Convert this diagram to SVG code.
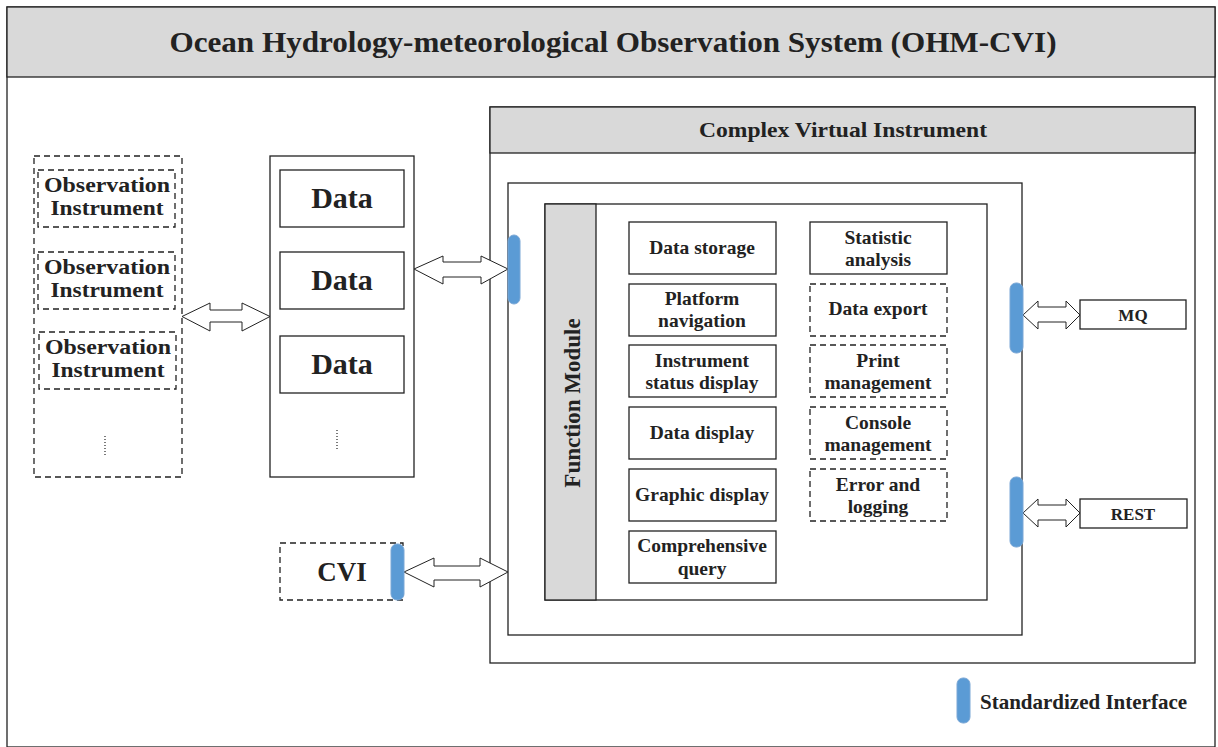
<svg xmlns="http://www.w3.org/2000/svg" width="1218" height="747" viewBox="0 0 1218 747">
<defs>
<style>
text{font-family:"Liberation Serif","DejaVu Serif",serif;font-weight:bold;fill:#222;text-anchor:middle}
.box{fill:#fff;stroke:#222;stroke-width:1.3}
.dash{fill:#fff;stroke:#222;stroke-width:1.3;stroke-dasharray:6 4}
.gray{fill:#d9d9d9;stroke:#222;stroke-width:1.3}
.arr{fill:#fff;stroke:#222;stroke-width:1}
.bar{fill:#5b9bd5;stroke:#7aa7d6;stroke-width:1}
.dots{stroke:#222;stroke-width:1.2;stroke-dasharray:1 2}
.it{font-size:19.5px}
.ob{font-size:20px}
.dt{font-size:30px}
</style>
</defs>
<rect width="1218" height="747" fill="#fff"/>
<g id="frame">
<rect class="box" x="7" y="7" width="1208" height="740"/>
<rect class="gray" x="7" y="7" width="1208" height="70"/>
<text x="613" y="52" font-size="30" textLength="887" lengthAdjust="spacingAndGlyphs">Ocean Hydrology-meteorological Observation System (OHM-CVI)</text>
</g>
<g id="obs-column">
<rect class="dash" x="34" y="156" width="148" height="321"/>
<line class="dots" x1="105" y1="436" x2="105" y2="456"/>
</g>
<g id="obs1"><rect class="dash" x="38" y="170" width="137" height="57"/><text class="ob" x="107" y="192" textLength="126" lengthAdjust="spacingAndGlyphs">Observation</text><text class="ob" x="107" y="215" textLength="113" lengthAdjust="spacingAndGlyphs">Instrument</text></g>
<g id="obs2"><rect class="dash" x="38" y="252" width="137" height="57"/><text class="ob" x="107" y="274" textLength="126" lengthAdjust="spacingAndGlyphs">Observation</text><text class="ob" x="107" y="297" textLength="113" lengthAdjust="spacingAndGlyphs">Instrument</text></g>
<g id="obs3"><rect class="dash" x="39" y="332" width="137" height="57"/><text class="ob" x="108" y="354" textLength="126" lengthAdjust="spacingAndGlyphs">Observation</text><text class="ob" x="108" y="377" textLength="113" lengthAdjust="spacingAndGlyphs">Instrument</text></g>
<g id="data-column">
<rect class="box" x="270" y="156" width="144" height="321"/>
<line class="dots" x1="337" y1="430" x2="337" y2="450"/>
</g>
<g id="data1"><rect class="box" x="280" y="170" width="124" height="57"/><text class="dt" x="342" y="208">Data</text></g>
<g id="data2"><rect class="box" x="280" y="252" width="124" height="57"/><text class="dt" x="342" y="290">Data</text></g>
<g id="data3"><rect class="box" x="280" y="336" width="124" height="57"/><text class="dt" x="342" y="374">Data</text></g>
<g id="cvi-outer">
<rect class="box" x="490" y="107" width="705" height="556"/>
<rect class="gray" x="490" y="107" width="705" height="46"/>
<text x="843" y="137" font-size="21" textLength="288" lengthAdjust="spacingAndGlyphs">Complex Virtual Instrument</text>
</g>
<g id="cvi-inner"><rect class="box" x="508" y="183" width="514" height="452"/></g>
<g id="function-module">
<rect class="box" x="545" y="204" width="442" height="396"/>
<rect class="gray" x="545" y="204" width="51" height="396"/>
<text transform="translate(580 403) rotate(-90)" font-size="23">Function Module</text>
</g>
<g id="f-storage"><rect class="box" x="629" y="222" width="147" height="52"/><text class="it" x="702" y="254">Data storage</text></g>
<g id="f-platform"><rect class="box" x="629" y="284" width="147" height="52"/><text class="it" x="702" y="305">Platform</text><text class="it" x="702" y="327">navigation</text></g>
<g id="f-status"><rect class="box" x="629" y="345" width="147" height="52"/><text class="it" x="702" y="367">Instrument</text><text class="it" x="702" y="389">status display</text></g>
<g id="f-datadisplay"><rect class="box" x="629" y="407" width="147" height="52"/><text class="it" x="702" y="439">Data display</text></g>
<g id="f-graphic"><rect class="box" x="629" y="469" width="147" height="52"/><text class="it" x="702" y="501">Graphic display</text></g>
<g id="f-query"><rect class="box" x="629" y="531" width="147" height="52"/><text class="it" x="702" y="552">Comprehensive</text><text class="it" x="702" y="575">query</text></g>
<g id="f-statistic"><rect class="box" x="810" y="222" width="137" height="52"/><text class="it" x="878" y="244">Statistic</text><text class="it" x="878" y="266">analysis</text></g>
<g id="f-export"><rect class="dash" x="810" y="284" width="137" height="52"/><text class="it" x="878" y="315">Data export</text></g>
<g id="f-print"><rect class="dash" x="810" y="345" width="137" height="52"/><text class="it" x="878" y="367">Print</text><text class="it" x="878" y="389">management</text></g>
<g id="f-console"><rect class="dash" x="810" y="407" width="137" height="52"/><text class="it" x="878" y="429">Console</text><text class="it" x="878" y="451">management</text></g>
<g id="f-error"><rect class="dash" x="810" y="469" width="137" height="52"/><text class="it" x="878" y="491">Error and</text><text class="it" x="878" y="513">logging</text></g>
<g id="cvi-box"><rect class="dash" x="280" y="543" width="123" height="57"/><text x="342" y="581" font-size="27">CVI</text></g>
<g id="mq"><rect class="box" x="1080" y="300" width="106" height="29"/><text x="1133" y="321" font-size="17">MQ</text></g>
<g id="rest"><rect class="box" x="1080" y="499" width="107" height="29"/><text x="1133" y="520" font-size="17">REST</text></g>
<g id="connectors">
<polygon class="arr" points="182,316.5 210,303 210,310 242,310 242,303 270,316.5 242,331 242,322 210,322 210,331"/>
<polygon class="arr" points="414,269 443,256 443,262 481,262 481,256 508,269 481,284 481,277 443,277 443,284"/>
<polygon class="arr" points="404,572 434,558 434,566 480,566 480,558 508,572 480,587 480,580 434,580 434,587"/>
<polygon class="arr" points="1023,315 1038,301 1038,307 1066,307 1066,301 1080,315 1066,329 1066,322 1038,322 1038,329"/>
<polygon class="arr" points="1023,513 1038,499 1038,505 1066,505 1066,499 1080,513 1066,527 1066,520 1038,520 1038,527"/>
</g>
<g id="interfaces">
<rect class="bar" x="508" y="235" width="12" height="69" rx="6"/>
<rect class="bar" x="1010" y="283" width="13" height="70" rx="6"/>
<rect class="bar" x="1010" y="477" width="13" height="70" rx="6"/>
<rect class="bar" x="391" y="544" width="13" height="56" rx="6"/>
</g>
<g id="legend">
<rect class="bar" x="957" y="678" width="13" height="45" rx="6"/>
<text x="980" y="709" font-size="21" style="text-anchor:start">Standardized Interface</text>
</g>
</svg>
